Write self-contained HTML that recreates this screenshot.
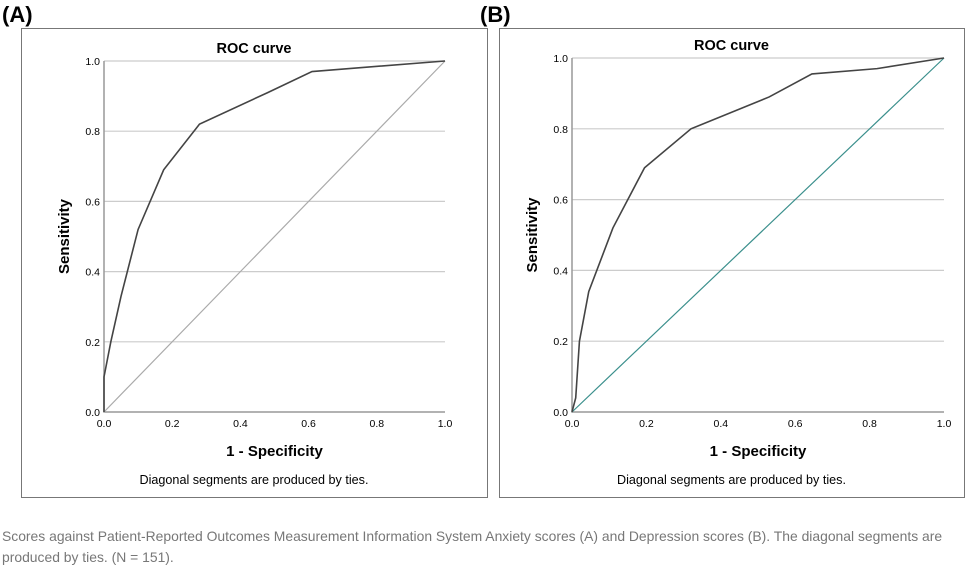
<!DOCTYPE html>
<html><head><meta charset="utf-8"><style>
body{margin:0;background:#fff;width:967px;height:565px;overflow:hidden;font-family:"Liberation Sans",sans-serif}
svg text{font-family:"Liberation Sans",sans-serif}
</style></head><body>
<svg id="svg" width="967" height="565">
<text x="2" y="22" font-size="22" font-weight="bold">(A)</text>
<text x="480" y="22" font-size="22" font-weight="bold">(B)</text>
<rect x="21.5" y="28.5" width="466" height="469" fill="none" stroke="#777"/>
<rect x="499.5" y="28.5" width="465" height="469" fill="none" stroke="#777"/>
<text x="2" y="541" font-size="13.9" fill="#777">Scores against Patient-Reported Outcomes Measurement Information System Anxiety scores (A) and Depression scores (B). The diagonal segments are</text>
<text x="2" y="562" font-size="13.9" fill="#777">produced by ties. (N = 151).</text>
<g id="ga"></g><g id="gb"></g>
</svg>
<script>
const ticks=[0,0.2,0.4,0.6,0.8,1.0];
const tickLabels=["0.0","0.2","0.4","0.6","0.8","1.0"];
const aFpr=[0,0,0.02,0.05,0.1,0.175,0.28,0.48,0.61,1];
const aTpr=[0,0.1,0.2,0.33,0.52,0.69,0.82,0.91,0.97,1];
const bFpr=[0,0.01,0.02,0.045,0.11,0.195,0.32,0.53,0.645,0.82,1];
const bTpr=[0,0.04,0.2,0.34,0.52,0.69,0.8,0.89,0.955,0.97,1];
const NS="http://www.w3.org/2000/svg";
function mk(g,t,a,txt){const e=document.createElementNS(NS,t);for(const k in a)e.setAttribute(k,a[k]);if(txt!=null)e.textContent=txt;g.appendChild(e);return e;}
function panel(id,x0,x1,y0,y1,fx,ty,diagColor,boxL,boxR){
 const g=document.getElementById(id);
 const X=v=>x0+v*(x1-x0), Y=v=>y1-v*(y1-y0);
 const cx=(boxL+boxR)/2;
 let e=mk(g,'text',{x:cx,y:y0-8,'font-size':14.5,'font-weight':'bold','text-anchor':'middle'},'ROC curve');
 
 ticks.forEach((t,i)=>{
  if(t>0){e=mk(g,'line',{x1:x0,x2:x1,y1:Y(t),y2:Y(t),stroke:'#ccc','stroke-width':1.2});
  }
  e=mk(g,'text',{x:x0-4,y:Y(t)+4,'font-size':10.5,'text-anchor':'end'},tickLabels[i]);
  
  e=mk(g,'text',{x:X(t),y:y1+15,'font-size':10.5,'text-anchor':'middle'},tickLabels[i]);
  
 });
 e=mk(g,'path',{d:`M${x0},${y0}V${y1}H${x1}`,fill:'none',stroke:'#999','stroke-width':1.5});
 
 e=mk(g,'line',{x1:X(0),y1:Y(0),x2:X(1),y2:Y(1),stroke:diagColor,'stroke-width':1.2});
 
 e=mk(g,'polyline',{points:fx.map((v,i)=>X(v)+','+Y(ty[i])).join(' '),fill:'none',stroke:'#444','stroke-width':1.6});
 
 e=mk(g,'text',{x:(x0+x1)/2,y:y1+44,'font-size':15,'font-weight':'bold','text-anchor':'middle'},'1 - Specificity');
 
 e=mk(g,'text',{x:0,y:0,'font-size':15,'font-weight':'bold','text-anchor':'middle',transform:`translate(${x0-35},${(y0+y1)/2}) rotate(-90)`},'Sensitivity');
 
 e=mk(g,'text',{x:cx,y:484,'font-size':12.6,'text-anchor':'middle'},'Diagonal segments are produced by ties.');
 
}
panel('ga',104,445,61,412,aFpr,aTpr,'#aaa',21,487);
panel('gb',572,944,58,412,bFpr,bTpr,'#3a8f8c',499,964);
</script>
</body></html>
